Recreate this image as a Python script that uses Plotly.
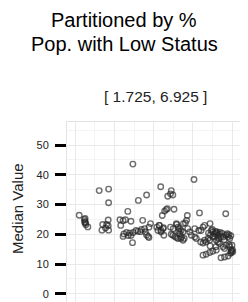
import plotly.graph_objects as go

# ---- data (x: position within partition, arbitrary units; y: median value) ----
x_vals = [
    1.10, 1.23, 1.25, 1.26, 1.27, 1.24, 1.25, 1.32,
    1.61, 1.85, 1.85, 1.70, 1.80, 1.84, 1.68, 1.77, 1.85, 1.84,
    2.14, 2.16, 2.22, 2.34, 2.42, 2.28,
    2.22, 2.24, 2.31, 2.35, 2.39, 2.42, 2.46, 2.48, 2.55, 2.60, 2.66, 2.69,
    2.72, 2.77, 2.79, 2.82, 2.86, 2.88, 2.92, 2.88,
    2.47, 2.61, 2.82,
    3.18, 3.45, 3.43, 3.49, 3.36,
    3.28, 3.32, 3.35, 3.22, 3.52, 4.03, 3.86, 4.17, 3.81,
    3.15, 3.24, 3.11, 3.26, 3.58, 3.62, 3.66, 3.70, 3.75, 3.87, 3.92, 3.96,
    3.45, 3.49, 3.54, 3.58, 3.62, 3.69, 3.75, 4.05, 4.09, 4.21, 4.20,
    3.76, 3.59, 3.43, 3.50, 3.64, 3.84, 3.14, 3.19, 3.19, 3.25, 3.08, 3.67, 3.71, 3.78,
    4.84, 4.44, 4.26, 4.30, 4.05, 4.15,
    4.47, 4.51, 4.56, 4.60, 4.64, 4.68, 4.72, 4.77, 4.85, 4.90, 4.94,
    4.30, 4.34, 4.26,
    4.39, 4.43, 4.51, 4.60, 4.64, 4.68, 4.77, 4.81, 4.85, 4.94, 4.98, 5.02,
    4.26, 4.34, 4.43, 4.51, 4.60, 4.72, 4.81, 4.90, 4.98,
    4.40, 4.45, 4.50, 4.55, 4.58, 4.62, 4.66, 4.70, 4.75, 4.80, 4.88, 4.92, 4.97,
    4.93, 4.99, 5.01, 4.96, 5.00, 4.44, 4.59,
]
y_vals = [
    26.4, 25.0, 24.3, 23.7, 23.2, 24.0, 25.3, 22.5,
    34.7, 35.2, 30.6, 23.3, 23.3, 24.8, 21.4, 22.1, 21.4, 22.9,
    24.9, 23.0, 24.6, 27.7, 24.4, 24.9,
    19.3, 20.1, 20.6, 19.6, 20.4, 19.6, 17.2, 20.6, 21.3, 21.0, 20.9, 21.6,
    24.7, 21.9, 20.8, 19.8, 19.3, 18.9, 23.6, 22.4,
    43.6, 31.4, 33.2,
    36.0, 34.7, 33.6, 33.2, 32.8,
    27.8, 28.3, 28.6, 26.3, 28.4, 38.4, 26.3, 27.2, 23.8,
    23.0, 21.9, 21.3, 19.7, 23.6, 22.4, 21.9, 21.3, 20.8, 21.9, 20.8, 19.7,
    20.0, 19.7, 19.3, 18.9, 18.6, 18.6, 18.0, 19.1, 18.6, 21.3, 17.4,
    23.6, 23.3, 22.4, 21.9, 21.1, 24.7, 23.0, 21.3, 20.8, 22.2, 22.4, 20.2, 19.1, 18.6,
    26.9, 23.6, 22.4, 23.0, 21.9, 21.3,
    21.3, 20.8, 20.2, 20.4, 19.7, 20.0, 19.3, 19.1, 19.7, 19.1, 18.6,
    18.0, 17.4, 17.1,
    18.6, 18.0, 19.1, 18.0, 17.4, 16.9, 15.8, 15.2, 16.3, 15.8, 14.7, 14.1,
    13.0, 13.3, 13.9, 14.3, 14.7, 12.1, 12.4, 12.7, 13.8,
    20.4, 19.8, 21.6, 19.3, 21.0, 20.8, 18.6, 20.6, 20.3, 18.2, 20.2, 19.9, 19.5,
    16.5, 14.4, 14.8, 13.6, 16.3, 16.1, 15.8,
]
y_ticks = [0, 10, 20, 30, 40, 50]
title_line1 = "Partitioned by %"
title_line2 = "Pop. with Low Status"
subtitle = "[ 1.725, 6.925 ]"
y_title = "Median Value"

FONT = "Liberation Sans, Arial, Helvetica, sans-serif"

fig = go.Figure(go.Scatter(
    x=x_vals, y=y_vals, mode="markers",
    marker=dict(symbol="circle-open", size=5.5,
                color="rgba(40,40,40,0.68)",
                line=dict(width=1.4, color="rgba(40,40,40,0.68)")),
    hoverinfo="skip",
))

# page body has an 8px default margin, so the figure is 8px smaller
fig.update_layout(
    width=240, height=294,
    margin=dict(l=59, r=1, t=114, b=0, pad=0),
    paper_bgcolor="white", plot_bgcolor="white",
    showlegend=False,
    font=dict(family=FONT, color="#222"),
)
fig.update_xaxes(
    range=[0.788, 5.383], showticklabels=False, ticks="",
    tickvals=[1, 2, 3, 4, 5],
    showgrid=True, gridcolor="#e9e9e9", gridwidth=1,
    minor=dict(tickvals=[1.5, 2.5, 3.5, 4.5], showgrid=True,
               gridcolor="#f4f4f4", gridwidth=1),
    showline=True, linecolor="#e3e3e3", linewidth=1, mirror=True,
    zeroline=False,
)
fig.update_yaxes(
    range=[-2.75, 57.75], tickvals=y_ticks,
    ticks="outside", ticklen=11, tickwidth=2.5, tickcolor="black",
    ticklabelstandoff=4,
    tickfont=dict(size=11, color="#222", family=FONT),
    showgrid=True, gridcolor="#e9e9e9", gridwidth=1,
    minor=dict(tickvals=[5, 15, 25, 35, 45, 55], showgrid=True,
               gridcolor="#f4f4f4", gridwidth=1),
    showline=True, linecolor="#e3e3e3", linewidth=1, mirror=True,
    zeroline=False,
)

anns = [
    dict(text=title_line1, x=0.3167, y=1.5667, size=20, color="black"),
    dict(text=title_line2, x=0.3167, y=1.431, size=20, color="black"),
    dict(text=subtitle, x=0.494, y=1.139, size=15.5, color="#222"),
]
for a in anns:
    fig.add_annotation(text=a["text"], x=a["x"], y=a["y"], xref="paper", yref="paper",
                       xanchor="center", yanchor="middle", showarrow=False,
                       font=dict(size=a["size"], color=a["color"], family=FONT))
fig.add_annotation(text=y_title, x=-0.2778, y=0.522, xref="paper", yref="paper",
                   xanchor="center", yanchor="middle", showarrow=False, textangle=-90,
                   borderpad=0,
                   font=dict(size=15, color="#222", family=FONT))

fig.write_html("out.html")
